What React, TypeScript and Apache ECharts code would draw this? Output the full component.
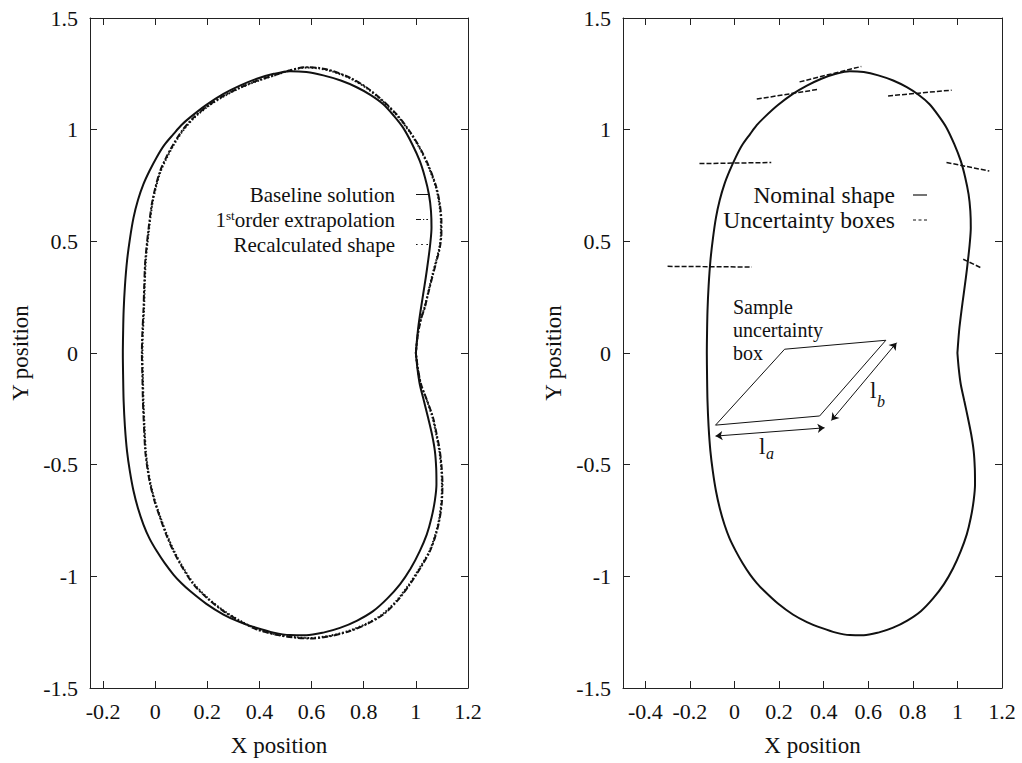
import React, { useEffect, useRef } from "react";
import * as echarts from "echarts";

// ---------- data ----------
const baselineShape: number[][] = [
  [1.0, 0.0], [1.004, 0.056], [1.009, 0.113], [1.018, 0.188], [1.028, 0.263],
  [1.038, 0.338], [1.047, 0.412], [1.055, 0.487], [1.06, 0.561], [1.058, 0.636],
  [1.05, 0.711], [1.035, 0.786], [1.015, 0.86], [0.986, 0.935], [0.951, 1.009],
  [0.915, 1.063], [0.875, 1.114], [0.827, 1.155], [0.773, 1.19], [0.712, 1.22],
  [0.645, 1.243], [0.58, 1.258], [0.517, 1.262], [0.455, 1.25], [0.39, 1.228],
  [0.325, 1.197], [0.262, 1.16], [0.195, 1.11], [0.134, 1.055], [0.1, 1.02],
  [0.07, 0.98], [0.034, 0.93], [0.006, 0.877], [-0.022, 0.815], [-0.045, 0.756],
  [-0.066, 0.685], [-0.083, 0.606], [-0.097, 0.51], [-0.108, 0.412], [-0.116, 0.3],
  [-0.121, 0.188], [-0.123, 0.09], [-0.124, 0.0], [-0.123, -0.1], [-0.121, -0.215],
  [-0.116, -0.33], [-0.108, -0.439], [-0.097, -0.53], [-0.083, -0.618], [-0.066, -0.695],
  [-0.045, -0.768], [-0.022, -0.83], [0.006, -0.887], [0.036, -0.94], [0.07, -0.992],
  [0.1, -1.03], [0.134, -1.066], [0.195, -1.122], [0.262, -1.171], [0.325, -1.205],
  [0.39, -1.231], [0.455, -1.252], [0.517, -1.263], [0.58, -1.264], [0.645, -1.252],
  [0.709, -1.231], [0.775, -1.198], [0.836, -1.156], [0.89, -1.1], [0.939, -1.036],
  [0.98, -0.965], [1.015, -0.887], [1.042, -0.812], [1.06, -0.738], [1.073, -0.66],
  [1.079, -0.588], [1.078, -0.515], [1.073, -0.439], [1.062, -0.365], [1.047, -0.29],
  [1.031, -0.215], [1.015, -0.14], [1.006, -0.07], [1.0, 0.0],
];

const extrapolatedShape: number[][] = [
  [1.0, 0.0], [1.005, 0.06], [1.012, 0.11], [1.022, 0.16], [1.034, 0.203],
  [1.05, 0.28], [1.066, 0.353], [1.08, 0.415], [1.092, 0.472], [1.098, 0.535],
  [1.098, 0.591], [1.092, 0.665], [1.079, 0.741], [1.05, 0.835], [1.015, 0.92],
  [0.975, 0.995], [0.926, 1.069], [0.87, 1.133], [0.811, 1.189], [0.75, 1.231],
  [0.683, 1.262], [0.63, 1.276], [0.58, 1.28], [0.517, 1.266], [0.455, 1.243],
  [0.39, 1.219], [0.325, 1.188], [0.262, 1.151], [0.2, 1.105], [0.147, 1.054],
  [0.105, 0.998], [0.07, 0.935], [0.042, 0.875], [0.019, 0.815], [0.001, 0.742],
  [-0.013, 0.666], [-0.027, 0.54], [-0.038, 0.412], [-0.042, 0.3], [-0.045, 0.188],
  [-0.049, 0.094], [-0.051, 0.0], [-0.049, -0.107], [-0.047, -0.215], [-0.043, -0.327],
  [-0.038, -0.439], [-0.03, -0.515], [-0.019, -0.588], [-0.002, -0.665], [0.019, -0.738],
  [0.042, -0.812], [0.07, -0.887], [0.105, -0.962], [0.147, -1.036], [0.2, -1.098],
  [0.262, -1.156], [0.325, -1.201], [0.39, -1.238], [0.465, -1.262], [0.543, -1.275],
  [0.594, -1.278], [0.67, -1.268], [0.747, -1.245], [0.815, -1.212], [0.875, -1.171],
  [0.93, -1.108], [0.977, -1.036], [1.018, -0.962], [1.054, -0.887], [1.077, -0.812],
  [1.092, -0.738], [1.1, -0.663], [1.102, -0.588], [1.099, -0.513], [1.092, -0.439],
  [1.08, -0.365], [1.066, -0.29], [1.044, -0.215], [1.02, -0.14], [1.008, -0.07],
  [1.0, 0.0],
];

const recalculatedShape: number[][] = [
  [1.0, 0.0], [1.005, 0.06], [1.011, 0.11], [1.021, 0.16], [1.033, 0.203],
  [1.049, 0.28], [1.064, 0.353], [1.078, 0.415], [1.09, 0.472], [1.096, 0.535],
  [1.096, 0.591], [1.09, 0.665], [1.077, 0.741], [1.048, 0.835], [1.013, 0.92],
  [0.973, 0.995], [0.924, 1.068], [0.868, 1.132], [0.81, 1.187], [0.749, 1.229],
  [0.682, 1.26], [0.63, 1.274], [0.58, 1.278], [0.517, 1.265], [0.455, 1.242],
  [0.39, 1.217], [0.326, 1.187], [0.263, 1.149], [0.201, 1.103], [0.149, 1.052],
  [0.107, 0.996], [0.072, 0.933], [0.044, 0.873], [0.021, 0.813], [0.003, 0.742],
  [-0.011, 0.666], [-0.025, 0.54], [-0.036, 0.412], [-0.04, 0.3], [-0.043, 0.188],
  [-0.047, 0.094], [-0.049, 0.0], [-0.047, -0.107], [-0.045, -0.215], [-0.041, -0.327],
  [-0.036, -0.439], [-0.028, -0.515], [-0.017, -0.588], [0.0, -0.665], [0.021, -0.738],
  [0.044, -0.81], [0.072, -0.885], [0.107, -0.96], [0.149, -1.034], [0.201, -1.096],
  [0.263, -1.154], [0.326, -1.199], [0.39, -1.236], [0.465, -1.26], [0.543, -1.273],
  [0.594, -1.276], [0.67, -1.266], [0.746, -1.243], [0.814, -1.21], [0.873, -1.169],
  [0.928, -1.106], [0.975, -1.034], [1.016, -0.96], [1.052, -0.887], [1.075, -0.812],
  [1.09, -0.738], [1.098, -0.663], [1.1, -0.588], [1.097, -0.513], [1.09, -0.439],
  [1.078, -0.365], [1.064, -0.29], [1.043, -0.215], [1.019, -0.14], [1.007, -0.07],
  [1.0, 0.0],
];

const nominalShape: number[][] = baselineShape;

const uncertaintySegments: number[][][] = [
  [[-0.3, 0.388], [0.078, 0.385]],
  [[-0.157, 0.848], [0.165, 0.853]],
  [[0.951, 0.853], [1.143, 0.815]],
  [[1.026, 0.42], [1.109, 0.38]],
  [[0.1, 1.137], [0.379, 1.181]],
  [[0.292, 1.214], [0.569, 1.283]],
  [[0.689, 1.151], [0.974, 1.177]],
];

const sampleBox: number[][] = [
  [-0.085, -0.323], [0.225, 0.017], [0.679, 0.057], [0.382, -0.282], [-0.085, -0.323],
];
const arrowLa: number[][] = [[-0.085, -0.372], [0.404, -0.335]];
const arrowLb: number[][] = [[0.435, -0.302], [0.727, 0.046]];

const xTicksLeft = [-0.2, 0, 0.2, 0.4, 0.6, 0.8, 1, 1.2];
const xTicksRight = [-0.4, -0.2, 0, 0.2, 0.4, 0.6, 0.8, 1, 1.2];

const S_BASE = "Baseline solution";
const S_EXTRA = "1st order extrapolation";
const S_RECALC = "Recalculated shape";
const S_NOM = "Nominal shape";
const S_UNC = "Uncertainty boxes";

// ---------- styling ----------
const FONT = "'Liberation Serif', 'Times New Roman', serif";
const INK = "#111";
const AXIS = "#222";

const ICON_SOLID = "path://M0,0H12V1H0Z";
const ICON_DASHDOT = "path://M0,0H5V1H0Z M7,0H8.2V1H7Z M10.3,0H12V1H10.3Z";
const ICON_DOTS = "path://M0,0H1.6V1H0Z M5.2,0H6.8V1H5.2Z M10.4,0H12V1H10.4Z";
const ICON_DASH = "path://M0,0H3V1H0Z M5.5,0H8.5V1H5.5Z M11,0H14V1H11Z";

function xAxisDef(gridIndex: number, position: string, min: number, ticks: number[], main: boolean) {
  return {
    type: "value",
    gridIndex,
    position,
    min,
    max: 1.2,
    name: main ? "X position" : "",
    nameLocation: "middle",
    nameGap: 46,
    nameTextStyle: { fontFamily: FONT, fontSize: 23, color: INK },
    axisLine: { show: true, onZero: false, lineStyle: { color: AXIS, width: 1 } },
    axisTick: { show: true, inside: true, length: 7, customValues: ticks, lineStyle: { color: AXIS } },
    axisLabel: {
      show: main, customValues: ticks, fontFamily: FONT, fontSize: 22, color: INK, margin: 12,
    },
    splitLine: { show: false },
  };
}

function yAxisDef(gridIndex: number, position: string, main: boolean) {
  return {
    type: "value",
    gridIndex,
    position,
    min: -1.5,
    max: 1.5,
    interval: 0.5,
    name: main ? "Y position" : "",
    nameLocation: "middle",
    nameGap: 58,
    nameTextStyle: { fontFamily: FONT, fontSize: 23, color: INK },
    axisLine: { show: true, onZero: false, lineStyle: { color: AXIS, width: 1 } },
    axisTick: { show: true, inside: true, length: 7, lineStyle: { color: AXIS } },
    axisLabel: {
      show: main, fontFamily: FONT, fontSize: 22, color: INK, margin: 12,
      showMinLabel: true, showMaxLabel: true,
    },
    splitLine: { show: false },
  };
}

function legendDef(
  name: string, icon: string, right: number, top: number,
  itemWidth: number, itemHeight: number, gap: number, fontSize: number,
) {
  return {
    show: true,
    data: [{ name, icon }],
    orient: "horizontal",
    align: "right",
    right,
    top,
    padding: 0,
    itemWidth,
    itemHeight,
    selectedMode: false,
    itemStyle: { color: INK, borderWidth: 0 },
    formatter: (n: string) => (n === S_EXTRA ? "1{sup|st}order extrapolation" : n),
    textStyle: {
      fontFamily: FONT,
      fontSize,
      color: INK,
      padding: [0, gap, 0, 0],
      rich: {
        sup: { fontFamily: FONT, fontSize: 13, color: INK, verticalAlign: "top", lineHeight: 13 },
      },
    },
  };
}

function lineSeries(name: string, data: number[][], axis: number, type: any, width: number) {
  return {
    type: "line",
    name,
    xAxisIndex: axis,
    yAxisIndex: axis,
    data,
    smooth: 0.3,
    symbol: "none",
    showSymbol: false,
    lineStyle: { color: INK, width, type },
    itemStyle: { color: INK },
    z: 3,
  };
}

export default function App() {
  const ref = useRef<HTMLDivElement>(null);

  useEffect(() => {
    if (!ref.current) return;
    const chart = echarts.init(ref.current, null, { renderer: "svg" });

    const series: any[] = [
      lineSeries(S_BASE, baselineShape, 0, "solid", 2),
      lineSeries(S_EXTRA, extrapolatedShape, 0, [6, 2, 2, 2], 2),
      lineSeries(S_RECALC, recalculatedShape, 0, [1.5, 2], 2),
      lineSeries(S_NOM, nominalShape, 2, "solid", 2),
    ];
    uncertaintySegments.forEach((seg) => {
      series.push({
        type: "line",
        name: S_UNC,
        xAxisIndex: 2,
        yAxisIndex: 2,
        data: seg,
        symbol: "none",
        showSymbol: false,
        lineStyle: { color: INK, width: 1.5, type: [5, 2] },
        itemStyle: { color: INK },
      });
    });
    series.push({
      type: "line",
      name: "sample box",
      xAxisIndex: 2,
      yAxisIndex: 2,
      data: sampleBox,
      symbol: "none",
      showSymbol: false,
      lineStyle: { color: INK, width: 1 },
    });
    series.push({
      type: "lines",
      name: "box sides",
      coordinateSystem: "cartesian2d",
      xAxisIndex: 2,
      yAxisIndex: 2,
      symbol: ["arrow", "arrow"],
      symbolSize: 7,
      lineStyle: { color: INK, width: 1, opacity: 1, curveness: 0 },
      data: [{ coords: arrowLa }, { coords: arrowLb }],
    });

    const option: any = {
      animation: false,
      backgroundColor: "#fff",
      textStyle: { fontFamily: FONT },
      grid: [
        { left: 90, top: 18, width: 378, height: 670 },
        { left: 623, top: 18, width: 379, height: 670 },
      ],
      xAxis: [
        xAxisDef(0, "bottom", -0.25, xTicksLeft, true),
        xAxisDef(0, "top", -0.25, xTicksLeft, false),
        xAxisDef(1, "bottom", -0.5, xTicksRight, true),
        xAxisDef(1, "top", -0.5, xTicksRight, false),
      ],
      yAxis: [
        yAxisDef(0, "left", true),
        yAxisDef(0, "right", false),
        yAxisDef(1, "left", true),
        yAxisDef(1, "right", false),
      ],
      legend: [
        legendDef(S_BASE, ICON_SOLID, 594, 184, 12, 2, 16, 21),
        legendDef(S_EXTRA, ICON_DASHDOT, 594, 209, 12, 2, 16, 21),
        legendDef(S_RECALC, ICON_DOTS, 594, 234, 12, 2, 16, 21),
        legendDef(S_NOM, ICON_SOLID, 95, 183, 14, 2, 13, 23.5),
        legendDef(S_UNC, ICON_DASH, 95, 208, 14, 1.2, 13, 23.5),
      ],
      series,
      graphic: [
        { type: "text", left: 733, top: 297, style: { text: "Sample", fontFamily: FONT, fontSize: 20, fill: INK } },
        { type: "text", left: 733, top: 320, style: { text: "uncertainty", fontFamily: FONT, fontSize: 20, fill: INK } },
        { type: "text", left: 733, top: 343, style: { text: "box", fontFamily: FONT, fontSize: 20, fill: INK } },
        { type: "text", x: 759, y: 446, style: { text: "l", fontFamily: FONT, fontSize: 23, fill: INK, verticalAlign: "middle" } },
        { type: "text", x: 766, y: 453, style: { text: "a", fontFamily: FONT, fontSize: 16, fontStyle: "italic", fill: INK, verticalAlign: "middle" } },
        { type: "text", x: 870, y: 390, style: { text: "l", fontFamily: FONT, fontSize: 23, fill: INK, verticalAlign: "middle" } },
        { type: "text", x: 877, y: 401, style: { text: "b", fontFamily: FONT, fontSize: 16, fontStyle: "italic", fill: INK, verticalAlign: "middle" } },
      ],
    };

    chart.setOption(option);
    return () => chart.dispose();
  }, []);

  return (
    <div
      ref={ref}
      style={{ position: "fixed", left: 0, top: 0, width: 1022, height: 763, background: "#fff" }}
    />
  );
}
